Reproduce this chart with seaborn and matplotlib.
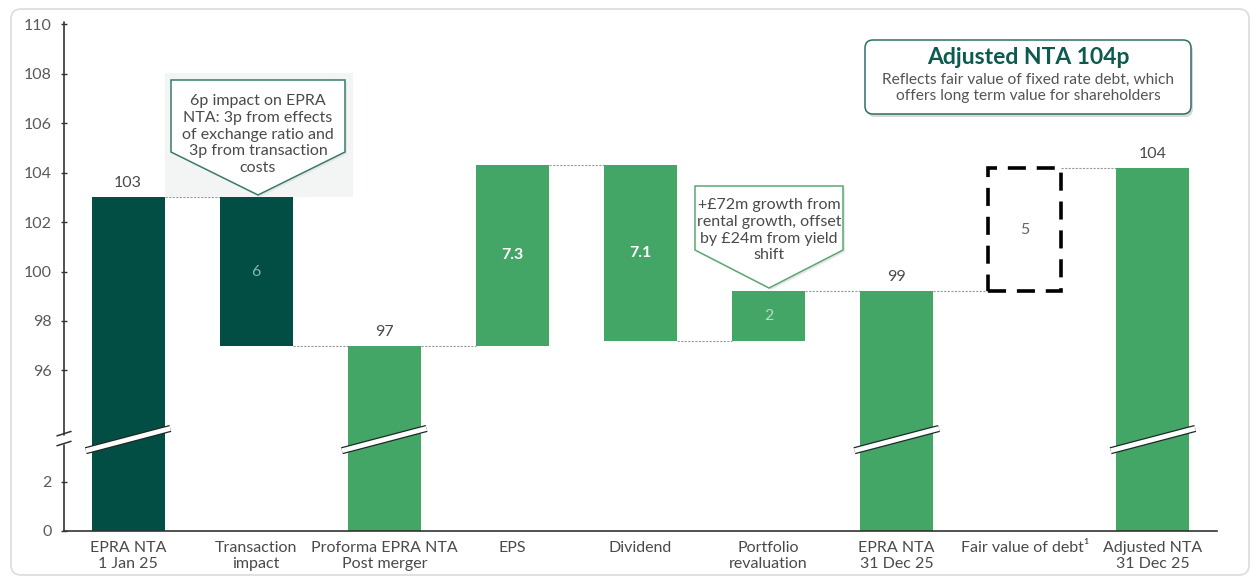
import matplotlib
matplotlib.use("Agg")
import matplotlib.pyplot as plt
import seaborn as sns
import numpy as np
from matplotlib.patches import Polygon, FancyBboxPatch, Rectangle

# ---------------- data ----------------
categories = ["EPRA NTA\n1 Jan 25", "Transaction\nimpact", "Proforma EPRA NTA\nPost merger",
              "EPS", "Dividend", "Portfolio\nrevaluation", "EPRA NTA\n31 Dec 25",
              "Fair value of debt\u00b9", "Adjusted NTA\n31 Dec 25"]
bar_low = [0, 97.0, 0, 97.0, 97.2, 97.2, 0, 99.2, 0]
bar_high = [103.0, 103.0, 97.0, 104.3, 104.3, 99.2, 99.2, 104.2, 104.2]
value_labels = ["103", "6", "97", "7.3", "7.1", "2", "99", "5", "104"]
bar_kind = ["total", "delta", "total", "delta", "delta", "delta", "total", "dashed", "total"]
bar_shade = ["dark", "dark", "light", "light", "light", "light", "light", "none", "light"]
ytick_values = [0, 2, 96, 98, 100, 102, 104, 106, 108, 110]

callout1_text = "6p impact on EPRA\nNTA: 3p from effects\nof exchange ratio and\n3p from transaction\ncosts"
callout2_text = "+\u00a372m growth from\nrental growth, offset\nby \u00a324m from yield\nshift"
box_title = "Adjusted NTA 104p"
box_sub = "Reflects fair value of fixed rate debt, which\noffers long term value for shareholders"

# ---------------- style ----------------
DARK = "#024d44"
LIGHT = "#43a666"
TEAL = "#0d5a4f"
TXT = "#4a4a4a"
FONT = ["Lato", "DejaVu Sans"]

sns.set_theme(style="white")
plt.rcParams["font.family"] = FONT

OFFSET = 89.5      # broken axis: values >= 90 are shifted down by this amount
def disp(v):
    return v - OFFSET if v >= 50 else v

fig = plt.figure(figsize=(12.58, 5.78), dpi=100)
ax = fig.add_axes([64 / 1258, 1 - 531 / 578, (1217 - 64) / 1258, (531 - 22) / 578])

bottoms = [disp(v) if v > 0 else 0 for v in bar_low]
heights = [disp(h) - b for h, b in zip(bar_high, bottoms)]
WIDTH = 0.57
sns.barplot(x=categories, y=heights, bottom=bottoms, color=LIGHT, width=WIDTH,
            errorbar=None, ax=ax, linewidth=0, zorder=2)

shade_map = {"dark": DARK, "light": LIGHT}
for p, shade, kind in zip(ax.patches, bar_shade, bar_kind):
    if kind == "dashed":
        p.set_facecolor("none")
        p.set_edgecolor("black")
        p.set_linewidth(2.6)
        p.set_linestyle((0, (5, 3)))
    else:
        p.set_facecolor(shade_map[shade])

ax.set_xlim(-0.5, 8.5)
ax.set_ylim(0, 20.6)

# connectors
for i in range(len(categories) - 1):
    a = {bar_low[i], bar_high[i]} - {0}
    b = {bar_low[i + 1], bar_high[i + 1]} - {0}
    common = a & b
    if common:
        lvl = disp(list(common)[0])
        ax.plot([i + WIDTH / 2, i + 1 - WIDTH / 2], [lvl, lvl], color="#9a9a9a",
                lw=0.8, ls=(0, (2, 1.2)), zorder=1)

# value labels
for i, (lab, kind) in enumerate(zip(value_labels, bar_kind)):
    lo, hi = disp(bar_low[i]) if bar_low[i] > 0 else 0, disp(bar_high[i])
    if kind == "total":
        ax.annotate(lab, (i, hi), xytext=(0, 5), textcoords="offset points",
                    ha="center", va="bottom", fontsize=11.5, color=TXT)
    else:
        mid = (lo + hi) / 2
        if lab in ("7.3", "7.1"):
            col, fw = "white", "bold"
        elif lab == "6":
            col, fw = "#86b9b0", "normal"
        elif lab == "2":
            col, fw = "#b5dcc2", "normal"
        else:
            col, fw = "#666666", "normal"
        ax.text(i, mid, lab, ha="center", va="center", fontsize=11.5, color=col,
                fontweight=fw, zorder=3)

# break stripes on total bars
for i, kind in enumerate(bar_kind):
    if kind == "total":
        xs = [i - 0.33, i + 0.33]
        ys = [3.25, 4.15]
        ax.plot(xs, ys, color="#1c2a26", lw=5.2, solid_capstyle="butt", zorder=4)
        ax.plot(xs, ys, color="white", lw=3.4, solid_capstyle="butt", zorder=5)

# axes / ticks
ytick_pos = [disp(v) for v in ytick_values]
ax.set_yticks(ytick_pos)
ax.set_yticklabels([str(v) for v in ytick_values])
ax.set_xticks(range(len(categories)))
ax.set_xticklabels(categories)
ax.set_xlabel("")
ax.set_ylabel("")
for s in ["top", "right", "left"]:
    ax.spines[s].set_visible(False)
ax.spines["bottom"].set_color("#333333")
ax.spines["bottom"].set_linewidth(1.2)
ax.tick_params(axis="x", length=0, pad=7, labelsize=11.5, labelcolor=TXT)
ax.tick_params(axis="y", length=4, width=1, direction="inout", color="#333333",
               pad=7, labelsize=11.5, labelcolor="#5a5a5a", left=True)
for t in ax.get_xticklabels():
    t.set_linespacing(1.25)

# manual broken y axis
ax.plot([-0.5, -0.5], [0, 3.5], color="#333333", lw=1.2, clip_on=False, zorder=6)
ax.plot([-0.5, -0.5], [3.9, 20.6], color="#333333", lw=1.2, clip_on=False, zorder=6)
for yb in (3.45, 3.85):
    ax.plot([-0.555, -0.445], [yb, yb + 0.18], color="#333333", lw=1.1, clip_on=False, zorder=6)

# ---------------- overlay in pixel coordinates ----------------
ov = fig.add_axes([0, 0, 1, 1], facecolor="none")
ov.set_xlim(0, 1258)
ov.set_ylim(578, 0)
ov.axis("off")

# outer frame
ov.add_patch(FancyBboxPatch((11, 9), 1238, 566, boxstyle="round,pad=0,rounding_size=10",
                            fc="none", ec="#dcdcdc", lw=1.2))

# grey backdrop behind first callout
ov.add_patch(Rectangle((165, 73), 188, 124, fc="#f3f4f4", ec="none", zorder=0))

def callout(x0, x1, ytop, yside, ytip, text, ec, ty, fs):
    xc = (x0 + x1) / 2
    pts = [(x0, ytop), (x1, ytop), (x1, yside), (xc, ytip), (x0, yside)]
    sh = [(x + 2, y + 2) for x, y in pts]
    ov.add_patch(Polygon(sh, closed=True, fc="#e6e6e6", ec="none", zorder=1))
    ov.add_patch(Polygon(pts, closed=True, fc="white", ec=ec, lw=1.1, zorder=2))
    ov.text(xc, ty, text, ha="center", va="top", fontsize=fs, color=TXT,
            linespacing=1.25, zorder=3)

callout(171, 345, 80, 152, 195, callout1_text, "#3b7a70", 94, 11.5)
callout(695, 843, 186, 250, 288, callout2_text, "#5aa772", 198, 11.5)

# top right info box
ov.add_patch(FancyBboxPatch((867, 43), 326, 74, boxstyle="round,pad=0,rounding_size=8",
                            fc="#d8d8d8", ec="none", zorder=1))
ov.add_patch(FancyBboxPatch((865, 40), 326, 74, boxstyle="round,pad=0,rounding_size=8",
                            fc="white", ec="#2f6e64", lw=1.1, zorder=2))
ov.text(1028, 57, box_title, ha="center", va="center", fontsize=16.5, fontweight="bold",
        color=TEAL, zorder=3)
ov.text(1028, 88, box_sub, ha="center", va="center", fontsize=11.2, color="#555555",
        linespacing=1.22, zorder=3)

fig.savefig("out.png", dpi=100)
